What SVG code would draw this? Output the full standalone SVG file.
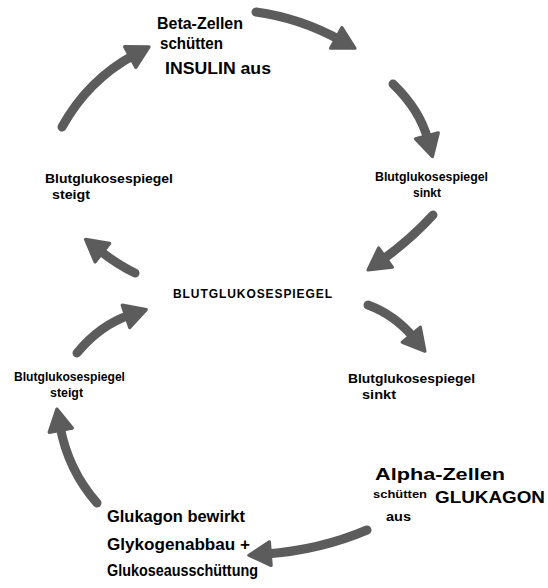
<svg xmlns="http://www.w3.org/2000/svg" width="548" height="588" viewBox="0 0 548 588">
<style>
text{font-family:"Liberation Sans",Arial,sans-serif;fill:#000;font-weight:bold}
.s{font-size:13px}
.m{font-size:17px}
.c{font-size:13px;letter-spacing:1px}
.a{fill:none;stroke:#5c5c5c;stroke-width:9;stroke-linecap:round}
</style>
<defs>
<marker id="h" markerUnits="userSpaceOnUse" markerWidth="30" markerHeight="30" viewBox="-2 -14 26 28" refX="4" refY="0" orient="auto">
<path d="M0,-11 L20,0 L0,11 Z" fill="#5c5c5c" stroke="#5c5c5c" stroke-width="3" stroke-linejoin="round"/>
</marker>
</defs>
<rect width="548" height="588" fill="#fff"/>
<g id="connectors">
<path class="a" marker-end="url(#h)" d="M62,127 Q88,80 134,55"/>
<path class="a" marker-end="url(#h)" d="M256,12 Q300,18 340,40"/>
<path class="a" marker-end="url(#h)" d="M393,84 Q420,110 428,140"/>
<path class="a" marker-end="url(#h)" d="M433,215 Q410,240 382,260"/>
<path class="a" marker-end="url(#h)" d="M135,273 Q118,265 99,250"/>
<path class="a" marker-end="url(#h)" d="M77,353 Q100,325 130,315"/>
<path class="a" marker-end="url(#h)" d="M368,305 Q395,315 414,338"/>
<path class="a" marker-end="url(#h)" d="M97,503 Q68,470 60,426"/>
<path class="a" marker-end="url(#h)" d="M367,530 Q320,550 266,554"/>
</g>
<g id="beta">
<text class="m" x="157" y="29" textLength="86" lengthAdjust="spacingAndGlyphs">Beta-Zellen</text>
<text class="m" x="160" y="49" textLength="63" lengthAdjust="spacingAndGlyphs">schütten</text>
<text class="m" x="165" y="74" textLength="106" lengthAdjust="spacingAndGlyphs">INSULIN aus</text>
</g>
<g id="steigt-top">
<text class="s" x="45" y="183" textLength="128" lengthAdjust="spacingAndGlyphs">Blutglukosespiegel</text>
<text class="s" x="52" y="199" textLength="38" lengthAdjust="spacingAndGlyphs">steigt</text>
</g>
<g id="sinkt-top">
<text class="s" x="375" y="181" textLength="113" lengthAdjust="spacingAndGlyphs">Blutglukosespiegel</text>
<text class="s" x="413" y="197" textLength="28" lengthAdjust="spacingAndGlyphs">sinkt</text>
</g>
<g id="center">
<text class="c" x="173" y="298" textLength="160" lengthAdjust="spacingAndGlyphs">BLUTGLUKOSESPIEGEL</text>
</g>
<g id="steigt-mid">
<text class="s" x="14" y="381" textLength="111" lengthAdjust="spacingAndGlyphs">Blutglukosespiegel</text>
<text class="s" x="50" y="397" textLength="33" lengthAdjust="spacingAndGlyphs">steigt</text>
</g>
<g id="sinkt-mid">
<text class="s" x="348" y="383" textLength="127" lengthAdjust="spacingAndGlyphs">Blutglukosespiegel</text>
<text class="s" x="362" y="399" textLength="34" lengthAdjust="spacingAndGlyphs">sinkt</text>
</g>
<g id="alpha">
<text class="m" x="375" y="480" textLength="130" lengthAdjust="spacingAndGlyphs">Alpha-Zellen</text>
<text style="font-size:10px" x="373" y="498" textLength="54" lengthAdjust="spacingAndGlyphs">schütten</text>
<text class="m" x="435" y="503" textLength="110" lengthAdjust="spacingAndGlyphs">GLUKAGON</text>
<text class="s" x="386" y="521" textLength="25" lengthAdjust="spacingAndGlyphs">aus</text>
</g>
<g id="glukagon">
<text class="m" x="107" y="522" textLength="138" lengthAdjust="spacingAndGlyphs">Glukagon bewirkt</text>
<text class="m" x="107" y="550" textLength="143" lengthAdjust="spacingAndGlyphs">Glykogenabbau +</text>
<text class="m" x="107" y="576" textLength="151" lengthAdjust="spacingAndGlyphs">Glukoseausschüttung</text>
</g>
</svg>
